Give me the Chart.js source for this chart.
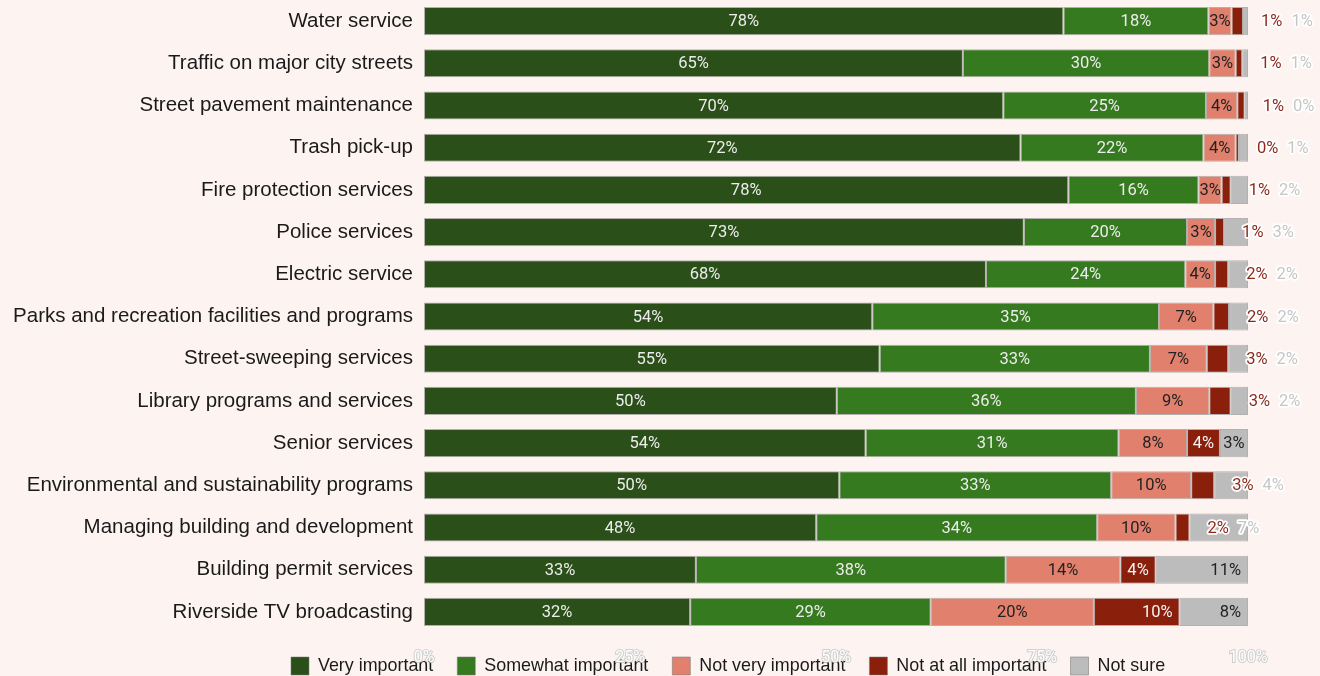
<!DOCTYPE html>
<html><head><meta charset="utf-8">
<script src="https://cdn.jsdelivr.net/npm/chart.js@4.4.1/dist/chart.umd.min.js"></script>
<style>
html,body{margin:0;padding:0;background:#fdf4f1;}
#wrap{width:1320px;height:676px;position:relative;}
canvas{display:block;}
</style></head><body>
<div id="wrap"><canvas id="c" width="1320" height="676"></canvas></div>
<script>
const categories = [
  'Water service',
  'Traffic on major city streets',
  'Street pavement maintenance',
  'Trash pick-up',
  'Fire protection services',
  'Police services',
  'Electric service',
  'Parks and recreation facilities and programs',
  'Street-sweeping services',
  'Library programs and services',
  'Senior services',
  'Environmental and sustainability programs',
  'Managing building and development',
  'Building permit services',
  'Riverside TV broadcasting'
];
const seriesNames = ['Very important', 'Somewhat important', 'Not very important', 'Not at all important', 'Not sure'];
const veryImportant     = [77.6, 65.4, 70.3, 72.4, 78.2, 72.8, 68.2, 54.4, 55.3, 50.1, 53.6, 50.4, 47.6, 33.0, 32.3];
const somewhatImportant = [17.6, 29.9, 24.6, 22.2, 15.8, 19.8, 24.2, 34.8, 32.8, 36.3, 30.7, 33.0, 34.1, 37.6, 29.2];
const notVeryImportant  = [ 2.8,  3.2,  3.8,  3.9,  2.8,  3.4,  3.6,  6.6,  6.9,  8.9,  8.3,  9.7,  9.5, 13.9, 19.8];
const notAtAllImportant = [ 1.4,  0.8,  0.9,  0.4,  1.1,  1.1,  1.6,  1.9,  2.6,  2.6,  4.0,  2.8,  1.7,  4.3, 10.4];
const notSure           = [ 0.6,  0.7,  0.4,  1.1,  2.1,  2.9,  2.4,  2.3,  2.4,  2.1,  3.4,  4.1,  7.1, 11.2,  8.3];
const xTicks = [0, 25, 50, 75, 100];

const colors = ['#2b4f18', '#367a1f', '#e0806d', '#8a1f0c', '#bcbcbc'];
const insideText = ['#ececec', '#ececec', '#222222', '#f4f4f4', '#222222'];
const outsideText = ['#ececec', '#ececec', '#222222', '#8c2a1c', '#c6c6c6'];

const seriesData = [veryImportant, somewhatImportant, notVeryImportant, notAtAllImportant, notSure];

const bgPlugin = {
  id: 'bg',
  beforeDraw(chart) {
    const c = chart.ctx;
    c.save();
    c.fillStyle = '#fdf4f1';
    c.fillRect(0, 0, chart.width, chart.height);
    c.restore();
  }
};

const labelPlugin = {
  id: 'segLabels',
  afterDatasetsDraw(chart) {
    const ctx = chart.ctx;
    ctx.save();
    ctx.font = '16.5px Roboto';
    ctx.textBaseline = 'middle';
    const n = chart.data.labels.length;
    for (let j = 0; j < n; j++) {
      let outsideRight = null;
      for (let i = 0; i < chart.data.datasets.length; i++) {
        const ds = chart.data.datasets[i];
        const bar = chart.getDatasetMeta(i).data[j];
        const v = ds.data[j];
        const txt = Math.round(v) + '%';
        const tw = ctx.measureText(txt).width;
        const left = Math.min(bar.base, bar.x), right = Math.max(bar.base, bar.x);
        const w = right - left;
        const y = bar.y + 1;
        if (i < 3) {
          ctx.textAlign = 'center';
          ctx.fillStyle = insideText[i];
          ctx.fillText(txt, (left + right) / 2, y);
        } else if (outsideRight === null && tw + 4 <= w) {
          const pad = Math.min(7, (w - tw) / 2);
          ctx.textAlign = 'right';
          ctx.fillStyle = insideText[i];
          ctx.fillText(txt, right - pad, y);
        } else {
          const lx = outsideRight === null ? right + 18 : outsideRight + 9;
          ctx.textAlign = 'left';
          ctx.lineJoin = 'round';
          ctx.lineWidth = 3.5;
          ctx.strokeStyle = '#ffffff';
          ctx.strokeText(txt, lx, y);
          ctx.fillStyle = outsideText[i];
          ctx.fillText(txt, lx, y);
          outsideRight = lx + tw;
        }
      }
    }
    ctx.restore();
  }
};

new Chart(document.getElementById('c'), {
  type: 'bar',
  data: {
    labels: categories,
    datasets: seriesData.map((d, i) => ({
      label: seriesNames[i],
      data: d,
      backgroundColor: colors[i],
      borderColor: 'rgba(120,120,120,0.55)',
      borderWidth: 1,
      borderSkipped: false,
      barPercentage: 0.665,
      categoryPercentage: 1
    }))
  },
  options: {
    indexAxis: 'y',
    responsive: false,
    animation: false,
    devicePixelRatio: 1,
    layout: { padding: { left: 267, right: 72, top: -1, bottom: -9 } },
    scales: {
      x: {
        type: 'linear',
        stacked: true,
        min: 0,
        max: 100,
        grid: { display: false, drawTicks: false },
        border: { display: false },
        afterBuildTicks: s => { s.ticks = xTicks.map(v => ({ value: v })); },
        afterFit: s => { s.height = 0; s._computeLabelArea = () => undefined; },
        ticks: {
          padding: 15,
          color: '#ffffff',
          textStrokeColor: 'rgba(200,200,200,0.85)',
          textStrokeWidth: 2,
          font: { family: 'Roboto', size: 16 },
          callback: v => v + '%'
        }
      },
      y: {
        stacked: true,
        grid: { display: false, drawTicks: false },
        border: { display: false },
        afterFit: s => {
          s.width = 157;
          s.paddingTop = 0;
          s.paddingBottom = 0;
          s._computeLabelArea = () => undefined;
        },
        ticks: {
          padding: 11,
          color: '#1a1a1a',
          font: { family: 'Liberation Sans', size: 20.5 }
        }
      }
    },
    plugins: {
      legend: {
        position: 'bottom',
        align: 'start',
        labels: {
          font: { family: 'Liberation Sans', size: 17.9 },
          color: '#1a1a1a',
          boxWidth: 18,
          boxHeight: 18,
          padding: 24
        }
      },
      tooltip: { enabled: false }
    }
  },
  plugins: [bgPlugin, labelPlugin]
});
</script>
</body></html>
